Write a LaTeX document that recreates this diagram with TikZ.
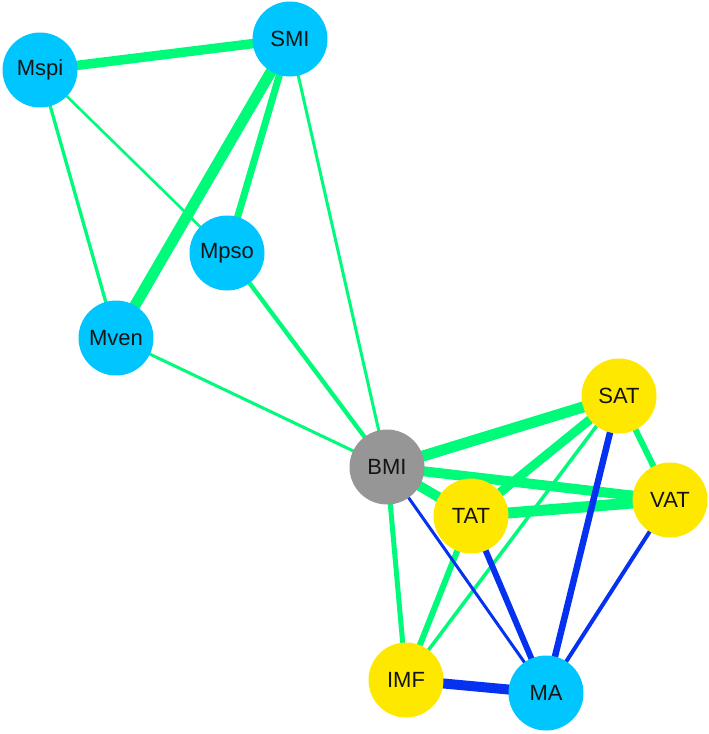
\documentclass[tikz,border=0pt]{standalone}
\usepackage{fontspec}
\setmainfont{Liberation Sans}
\pgfdeclarelayer{bg}
\pgfsetlayers{bg,main}
\definecolor{eg}{RGB}{0,250,122}
\definecolor{eb}{RGB}{5,50,240}
\definecolor{nb}{RGB}{0,198,255}
\definecolor{ny}{RGB}{255,232,0}
\definecolor{ng}{RGB}{150,150,150}
\tikzset{
  nd/.style={circle,minimum size=75pt,inner sep=0pt,font=\fontsize{22}{22}\selectfont,text=black!92},
  nblue/.style={nd,fill=nb},
  nyel/.style={nd,fill=ny},
  ngray/.style={nd,fill=ng},
  gl/.style={draw=eg,line width=#1pt},
  bl/.style={draw=eb,line width=#1pt}
}
\begin{document}
\begin{tikzpicture}[x=1pt,y=-1pt]
\useasboundingbox (0,0) rectangle (709,734);
\node[nblue] (Mspi) at (40,70) {Mspi};
\node[nblue] (SMI) at (290,39) {SMI};
\node[nblue] (Mpso) at (227,253) {Mpso};
\node[nblue] (Mven) at (116,338) {Mven};
\node[ngray] (BMI) at (387,467) {BMI};
\node[nyel] (SAT) at (619,396) {SAT};
\node[nyel] (VAT) at (670,500) {VAT};
\node[nyel] (TAT) at (471,516) {TAT};
\node[nyel] (IMF) at (406,680) {IMF};
\node[nblue] (MA) at (546,693) {MA};
\begin{pgfonlayer}{bg}
\draw[gl=9.5] (Mspi.center) -- (SMI.center);
\draw[gl=11] (SMI.center) -- (Mven.center);
\draw[gl=7] (SMI.center) -- (Mpso.center);
\draw[gl=2.6] (Mspi.center) -- (Mpso.center);
\draw[gl=3.3] (Mspi.center) -- (Mven.center);
\draw[gl=3] (SMI.center) -- (BMI.center);
\draw[gl=4.3] (Mpso.center) -- (BMI.center);
\draw[gl=3] (Mven.center) -- (BMI.center);
\draw[gl=11] (BMI.center) -- (SAT.center);
\draw[gl=10] (BMI.center) -- (VAT.center);
\draw[gl=10] (BMI.center) -- (TAT.center);
\draw[gl=9] (SAT.center) -- (TAT.center);
\draw[gl=11] (TAT.center) -- (VAT.center);
\draw[gl=6] (SAT.center) -- (VAT.center);
\draw[gl=3.5] (SAT.center) -- (IMF.center);
\draw[gl=5] (BMI.center) -- (IMF.center);
\draw[gl=6] (TAT.center) -- (IMF.center);
\draw[bl=3] (BMI.center) -- (MA.center);
\draw[bl=6] (TAT.center) -- (MA.center);
\draw[bl=6.5] (SAT.center) -- (MA.center);
\draw[bl=4] (VAT.center) -- (MA.center);
\draw[bl=10] (IMF.center) -- (MA.center);
\end{pgfonlayer}
\end{tikzpicture}
\end{document}
